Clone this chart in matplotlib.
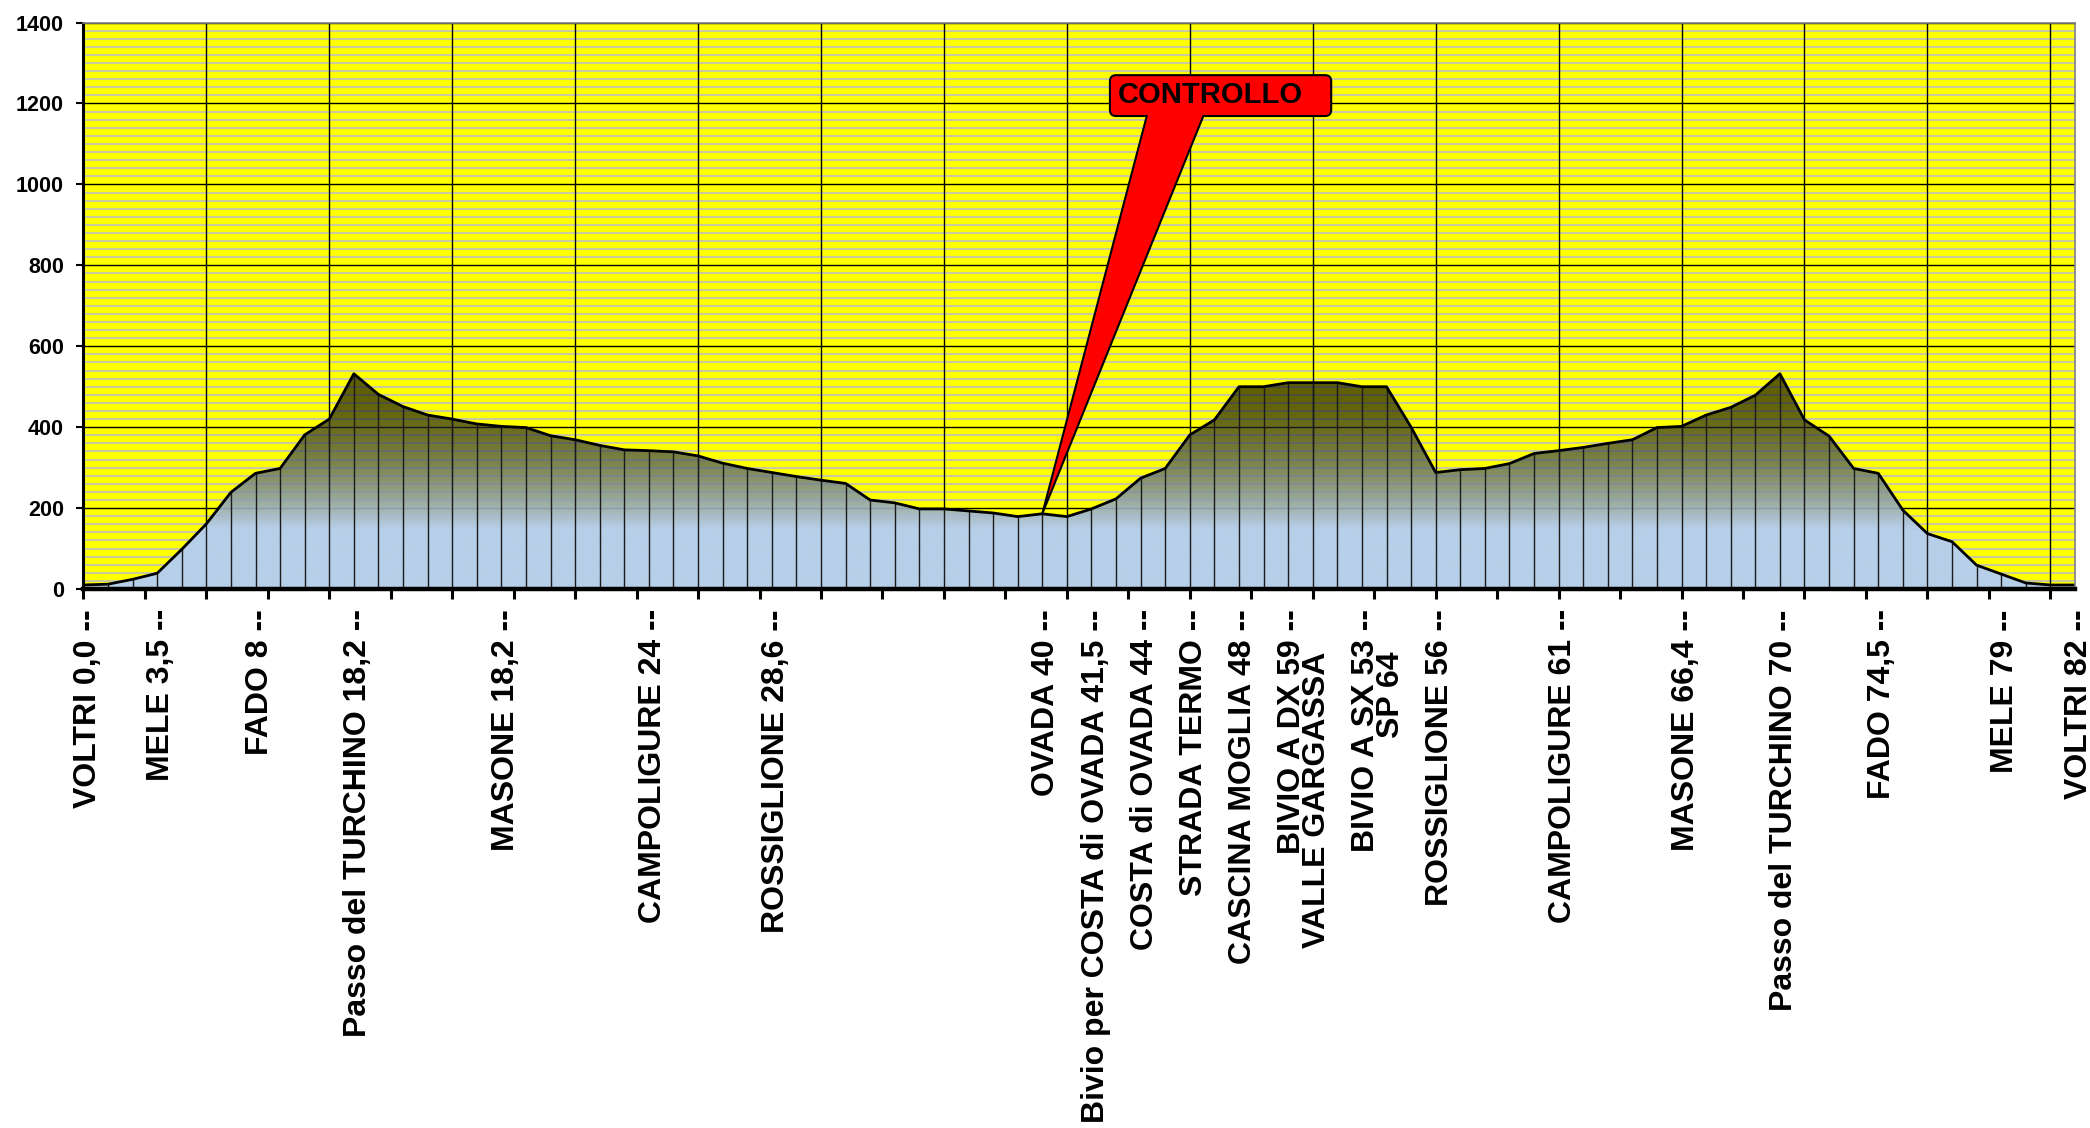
import matplotlib.pyplot as plt
import matplotlib.patches as mpatches
from matplotlib.ticker import MultipleLocator, FixedLocator
from matplotlib.transforms import ScaledTranslation
import numpy as np

plt.rcParams['font.family'] = ['Liberation Sans', 'DejaVu Sans']

# quota (m) di ogni punto del percorso, un punto per categoria
quota = [10, 12, 24, 39, 98, 161, 239, 286, 298, 381,
         420, 532, 481, 451, 430, 420, 408, 402, 399, 379,
         369, 355, 344, 342, 339, 329, 311, 298, 288, 278,
         269, 261, 220, 213, 198, 198, 193, 188, 179, 186,
         179, 198, 223, 274, 298, 381, 418, 500, 500, 510,
         510, 510, 500, 500, 400, 288, 295, 298, 310, 335,
         342, 350, 360, 369, 399, 402, 430, 449, 479, 532,
         418, 378, 298, 286, 195, 137, 117, 59, 37, 15,
         10, 10]

# etichette (solo alcune categorie ne hanno una)
etich_pos = [0, 3, 7, 11, 17, 23, 28, 39, 41, 43, 45, 47, 49, 52,
             55, 60, 65, 69, 73, 78, 81]
etich_txt = ["VOLTRI 0,0 --", "MELE 3,5 --", "FADO 8 --",
             "Passo del TURCHINO 18,2 --", "MASONE 18,2 --",
             "CAMPOLIGURE 24 --", "ROSSIGLIONE 28,6 --", "OVADA 40 --",
             "Bivio per COSTA di OVADA 41,5 --", "COSTA di OVADA 44 --",
             "STRADA TERMO --", "CASCINA MOGLIA 48 --", "BIVIO A DX 59 --",
             "BIVIO A SX 53 --", "ROSSIGLIONE 56 --", "CAMPOLIGURE 61 --",
             "MASONE 66,4 --", "Passo del TURCHINO 70 --", "FADO 74,5 --",
             "MELE 79 --", "VOLTRI 82 --"]
# seconda riga di alcune etichette
riga2_pos = [49, 52]
riga2_txt = ["VALLE GARGASSA", "SP 64"]

controllo_idx = 39


def main():
    x = np.arange(len(quota))
    y = np.array(quota, dtype=float)

    fig = plt.figure(figsize=(20.9, 11.28), dpi=100)
    ax = fig.add_axes([0.0399, 0.4778, 0.9529, 0.5022])
    ax.set_facecolor('#FFFF00')
    ax.set_axisbelow(True)

    # griglia
    ax.set_yticks(np.arange(0, 1401, 200))
    ax.yaxis.set_minor_locator(MultipleLocator(20))
    ax.grid(which='minor', axis='y', color='#C0C0C0', lw=1.2)
    ax.grid(which='major', axis='y', color='black', lw=1.0)
    ax.vlines(np.arange(5, len(quota), 5), 0, 1400, color='black', lw=1.0, zorder=1)

    # area con sfumatura
    poly = ax.fill_between(x, y, 0, facecolor='none', edgecolor='none')
    vmax = y.max()
    vv = np.linspace(0, vmax, 400)
    t = np.clip((vmax - vv) / (vmax - 150), 0, 1) ** 2
    blu = np.array([183, 207, 232]) / 255
    alpha = 0.63 + 0.37 * t
    img = np.zeros((400, 1, 4))
    img[:, 0, :3] = blu[None, :] * t[:, None] / alpha[:, None]
    img[:, 0, 3] = alpha
    im = ax.imshow(img, extent=(0, x[-1], 0, vmax), origin='lower',
                   aspect='auto', interpolation='bilinear', zorder=2)
    im.set_clip_path(poly.get_paths()[0], transform=ax.transData)

    ax.vlines(x, 0, y, color='#1a1a1a', lw=1.0, zorder=3)
    ax.plot(x, y, color='black', lw=2.0, zorder=4)

    ax.set_xlim(0, x[-1])
    ax.set_ylim(0, 1400)

    # assi
    ax.tick_params(axis='y', which='minor', length=0)
    ax.tick_params(axis='y', which='major', length=5, width=1.5, pad=9, labelsize=15.5)
    for lab in ax.get_yticklabels():
        lab.set_fontweight('bold')

    ax.set_xticks(etich_pos, etich_txt, rotation=90, fontsize=23, fontweight='bold')
    ax.xaxis.remove_overlapping_locs = False
    ax.xaxis.set_minor_locator(FixedLocator(np.arange(0, x[-1], 2.5)))
    ax.tick_params(axis='x', which='major', length=0, pad=14.5)
    ax.tick_params(axis='x', which='minor', length=7, width=2.2)
    sposta = ScaledTranslation(3 / 72, 0, fig.dpi_scale_trans)
    for lab in ax.get_xticklabels():
        lab.set_transform(lab.get_transform() + sposta)

    for p, s in zip(riga2_pos, riga2_txt):
        ax.annotate(s, xy=(p + 1, 0), xycoords=('data', 'axes fraction'),
                    xytext=(3, -45), textcoords='offset points', rotation=90,
                    ha='center', va='top', fontsize=23, fontweight='bold',
                    annotation_clip=False)

    ax.spines['left'].set_linewidth(2.2)
    ax.spines['bottom'].set_linewidth(3.2)
    for s in ['top', 'right']:
        ax.spines[s].set_color('#808080')
        ax.spines[s].set_linewidth(1.2)
    for s in ax.spines.values():
        s.set_zorder(5)

    # fumetto CONTROLLO
    bx0, bx1, by0, by1 = 41.75, 50.75, 1169, 1270
    box = mpatches.FancyBboxPatch((bx0, by0), bx1 - bx0, by1 - by0,
                                  boxstyle='round,pad=0,rounding_size=0.25',
                                  mutation_aspect=61, fc='#FF0000', ec='black',
                                  lw=1.5, zorder=6)
    ax.add_patch(box)
    tip = (controllo_idx, quota[controllo_idx])
    bl, br = 43.25, 45.55
    k = 16
    bl2 = bl + k * (bl - tip[0]) / (by0 - tip[1])
    br2 = br + k * (br - tip[0]) / (by0 - tip[1])
    ax.add_patch(mpatches.Polygon([(bl2, by0 + k), tip, (br2, by0 + k)],
                                  closed=True, fc='#FF0000', ec='none', zorder=7))
    ax.plot([bl, tip[0], br], [by0, tip[1], by0], color='black', lw=1.5, zorder=8)
    ax.text(42.05, 1222, 'CONTROLLO', fontsize=21, fontweight='bold',
            ha='left', va='center', zorder=9)

    fig.savefig('out.png', dpi=100)


if __name__ == "__main__":
    main()
